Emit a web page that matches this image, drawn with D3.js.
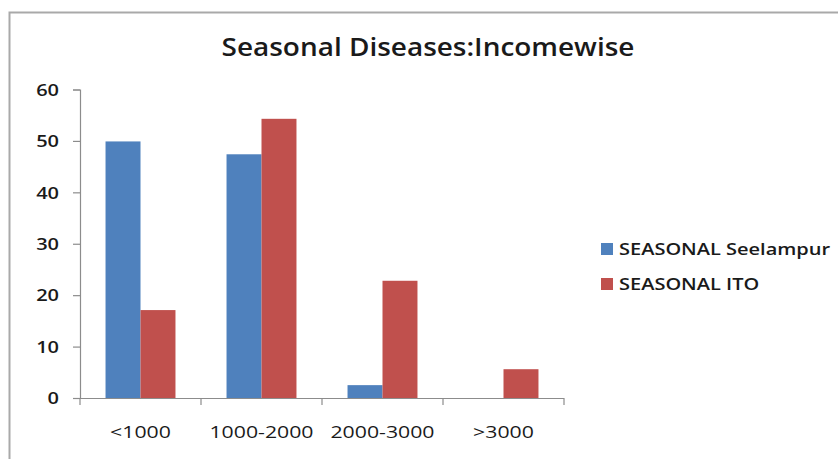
<!DOCTYPE html>
<html>
<head>
<meta charset="utf-8">
<script src="https://cdn.jsdelivr.net/npm/d3@7"></script>
<style>
  html, body { margin: 0; padding: 0; background: #fff; }
  svg { display: block; }
  text { font-family: "Open Sans", sans-serif; fill: #1a1a1a; }
</style>
</head>
<body>
<svg id="chart" width="838" height="459"></svg>
<script>
const categories = ["<1000", "1000-2000", "2000-3000", ">3000"];
const seriesNames = ["SEASONAL Seelampur", "SEASONAL ITO"];
const seelampur = [49.9, 47.4, 2.5, 0];
const ito = [17.1, 54.3, 22.8, 5.6];
const yTicks = [0, 10, 20, 30, 40, 50, 60];
const title = "Seasonal Diseases:Incomewise";
const colors = ["#4F81BD", "#C0504D"];

const series = [seelampur, ito];
const svg = d3.select("#chart");
const K = 1.25; // horizontal stretch of text as in the reference

function stretch(sel, k) {
  sel.each(function () {
    const w = this.getComputedTextLength();
    d3.select(this).attr("textLength", w * k).attr("lengthAdjust", "spacingAndGlyphs");
  });
}

// outer frame (left + top)
svg.append("path")
  .attr("d", "M9.5,459 L9.5,12.5 L838,12.5")
  .attr("fill", "none").attr("stroke", "#a9a9a9").attr("stroke-width", 2);

const plot = { left: 80, right: 564, top: 89.5, bottom: 398 };

const x = d3.scaleBand().domain(categories).range([plot.left, plot.right]).paddingInner(0).paddingOuter(0);
const xs = d3.scaleBand().domain(d3.range(series.length)).range([0, x.bandwidth()]).paddingInner(0).paddingOuter(0.73);
const y = d3.scaleLinear().domain([0, 60]).range([plot.bottom, plot.top]);

// bars
series.forEach((vals, si) => {
  svg.append("g").selectAll("rect")
    .data(vals)
    .join("rect")
    .attr("x", (d, i) => x(categories[i]) + xs(si))
    .attr("width", xs.bandwidth())
    .attr("y", d => y(d))
    .attr("height", d => y(0) - y(d))
    .attr("fill", colors[si]);
});

const axisColor = "#8c8c8c";

// y axis
const yAxis = svg.append("g").attr("transform", `translate(${plot.left},0)`)
  .call(d3.axisLeft(y).tickValues(yTicks).tickSize(7).tickPadding(14).tickFormat(d3.format("d")));
yAxis.select(".domain").attr("stroke", axisColor).attr("stroke-width", 1.2);
yAxis.selectAll(".tick line").attr("stroke", axisColor).attr("stroke-width", 1.2);
yAxis.selectAll(".tick text")
  .attr("font-family", "Open Sans").attr("font-size", 16).attr("font-weight", 600)
  .attr("fill", "#1a1a1a").attr("dy", "0.36em");
stretch(yAxis.selectAll(".tick text"), K);

// x axis: boundary ticks
const xAxis = svg.append("g").attr("transform", `translate(0,${plot.bottom})`);
xAxis.append("line").attr("x1", plot.left).attr("x2", plot.right).attr("y1", 0.5).attr("y2", 0.5)
  .attr("stroke", axisColor).attr("stroke-width", 1.2);
const boundaries = categories.map(c => x(c)).concat([x(categories[categories.length - 1]) + x.bandwidth()]);
xAxis.selectAll("line.b").data(boundaries).join("line").attr("class", "b")
  .attr("x1", d => d).attr("x2", d => d).attr("y1", 0).attr("y2", 7)
  .attr("stroke", axisColor).attr("stroke-width", 1.2);
const xl = xAxis.selectAll("text").data(categories).join("text")
  .attr("x", d => x(d) + x.bandwidth() / 2)
  .attr("y", 40)
  .attr("text-anchor", "middle")
  .attr("font-size", 17).attr("font-weight", 500)
  .text(d => d);
stretch(xl, K);

// title
const t = svg.append("text")
  .attr("x", 428).attr("y", 56)
  .attr("text-anchor", "middle")
  .attr("font-size", 26).attr("font-weight", 600)
  .text(title);
stretch(t, 1.075);

// legend
const lg = svg.append("g").attr("transform", "translate(601,243)");
seriesNames.forEach((name, i) => {
  const g = lg.append("g").attr("transform", `translate(0,${i * 35})`);
  g.append("rect").attr("width", 12).attr("height", 12).attr("fill", colors[i]);
  const tx = g.append("text").attr("x", 18).attr("y", 6).attr("dy", "0.36em")
    .attr("font-size", 16).attr("font-weight", 600).text(name);
  stretch(tx, K);
});
</script>
</body>
</html>
